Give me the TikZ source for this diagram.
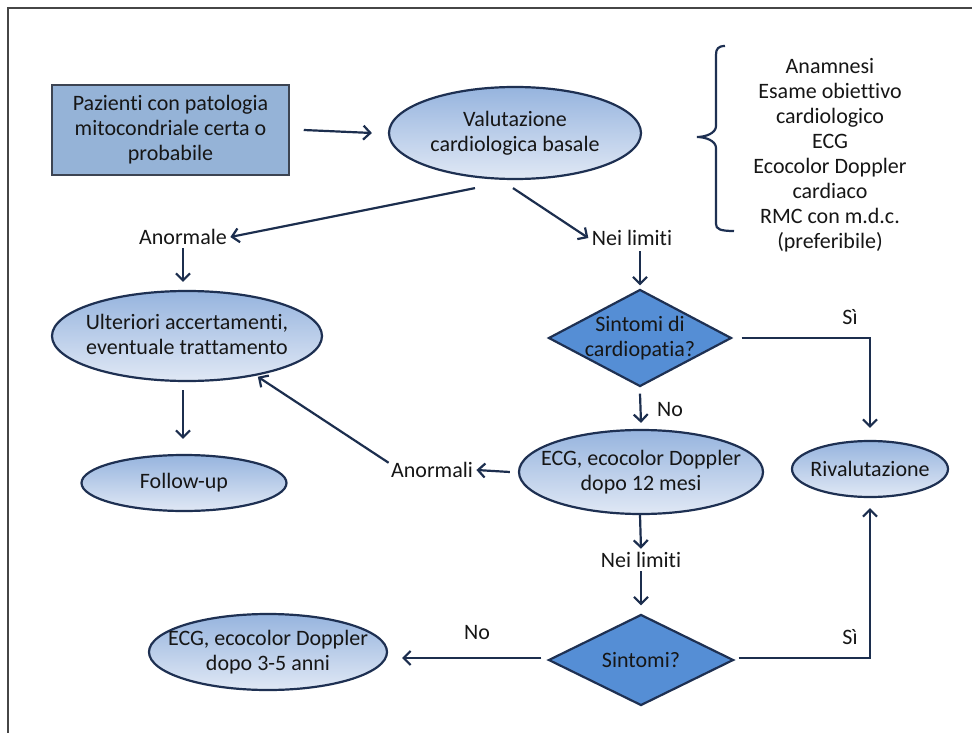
\documentclass[tikz,border=0pt]{standalone}
\usepackage{fontspec}
\setmainfont{Carlito}[Ligatures={NoCommon}]
\usetikzlibrary{shapes.geometric,arrows.meta,calc}
\definecolor{navy}{RGB}{30,48,82}
\definecolor{arrowc}{RGB}{28,46,78}
\definecolor{boxfill}{RGB}{149,179,215}
\definecolor{boxline}{RGB}{60,68,82}
\definecolor{elltop}{RGB}{150,180,222}
\definecolor{ellbot}{RGB}{224,232,245}
\definecolor{diafill}{RGB}{85,142,213}
\definecolor{txtc}{RGB}{22,22,22}
\definecolor{framec}{RGB}{70,70,70}
\begin{document}
\begin{tikzpicture}[x=1pt,y=-1pt,
  every node/.style={font=\fontsize{22}{25}\selectfont, text=txtc},
  ell/.style={ellipse, draw=navy, line width=2.2pt, top color=elltop, bottom color=ellbot, inner sep=0pt},
  dia/.style={diamond, draw=navy, line width=2.2pt, fill=diafill, inner sep=0pt},
  lbl/.style={align=center},
  arr/.style={draw=arrowc, line width=2.2pt, -{Straight Barb[length=7pt,width=14pt]}},
  plain/.style={draw=arrowc, line width=2.2pt}
]
\useasboundingbox (0,0) rectangle (972,733);
\fill[white] (0,0) rectangle (972,733);
\draw[framec, line width=1.6pt] (8,733) -- (8,8) -- (972,8);

% shapes
\node[draw=boxline, line width=1.5pt, fill=boxfill, minimum width=237pt, minimum height=90pt, inner sep=0pt, align=center] (pz) at (170.5,130) {Pazienti con patologia\\mitocondriale certa o\\probabile};
\node[ell, minimum width=252pt, minimum height=92pt] (val) at (515,133) {};
\node[lbl] (valt) at (val) {Valutazione\\cardiologica basale};

\node[lbl] (anorm) at (183,237) {Anormale};
\node[lbl] (nl1) at (632,238) {Nei limiti};

\node[ell, minimum width=270pt, minimum height=90pt] (ult) at (187,336) {};
\node[lbl] (ultt) at ($(ult)+(0,-2)$) {Ulteriori accertamenti,\\eventuale trattamento};

\node[ell, minimum width=205pt, minimum height=56pt] (fu) at (184,483) {};
\node[lbl] (fut) at (fu) {Follow-up};

\node[dia, minimum width=183pt, minimum height=97pt] (d1) at (640,338) {};
\node[lbl] (d1t) at (d1) {Sintomi di\\cardiopatia?};

\node[ell, minimum width=244pt, minimum height=84pt] (e12) at (641,472) {};
\node[lbl] (e12t) at (e12) {ECG, ecocolor Doppler\\dopo 12 mesi};

\node[ell, minimum width=156pt, minimum height=56pt] (riv) at (870,469) {};
\node[lbl] (rivt) at (riv) {Rivalutazione};

\node[lbl] (anormali) at (432,470) {Anormali};
\node[lbl] (nl2) at (641,560) {Nei limiti};

\node[dia, minimum width=185pt, minimum height=91pt] (d2) at (641,660) {};
\node[lbl] (d2t) at (d2) {Sintomi?};

\node[ell, minimum width=238pt, minimum height=76pt] (e35) at (268,652) {};
\node[lbl] (e35t) at (e35) {ECG, ecocolor Doppler\\dopo 3-5 anni};

\node[lbl] (si1) at (850,317) {Sì};
\node[lbl] (no1) at (670,410) {No};
\node[lbl] (no2) at (477,633) {No};
\node[lbl] (si2) at (850,637) {Sì};

\node[lbl] (list) at (830,155) {Anamnesi\\Esame obiettivo\\cardiologico\\ECG\\Ecocolor Doppler\\cardiaco\\RMC con m.d.c.\\(preferibile)};

% brace
\draw[navy, line width=2.2pt] (725,46) .. controls (718,46) and (716,49) .. (716,55) -- (716,126)
  .. controls (716,133) and (706,137) .. (697,137)
  .. controls (706,137) and (716,141) .. (716,148) -- (716,224)
  .. controls (716,229) and (720,231) .. (734,231);

% connectors
\draw[arr] ([xshift=14pt]pz.east) -- ([xshift=-16pt]val.west);
\draw[arr] ($(val.south)+(-40,8)$) -- (anorm.east);
\draw[arr] ($(val.south)+(-2,8)$) -- (nl1.west);
\draw[arr] (anorm.south) -- ($(anorm.south |- ult.north)+(0,-8)$);
\draw[arr] ($(ult.south)+(-4,8)$) -- ($(fu.north)+(-1,-15)$);
\draw[arr] ($(nl1.south -| d1.north)+(0,2)$) -- ($(d1.north)+(0,-3)$);
\draw[arr] ($(d1.east)+(9,0)$) -| ($(riv.north)+(0,-12)$);
\draw[arr] ($(d1.south)+(0,6)$) -- ($(e12.north)+(0,-6)$);
\draw[arr] ($(e12.west)+(-8,0)$) -- (anormali.east);
\draw[arr] ($(anormali.north west)+(1,4)$) -- ($(ult.-30)+(2,1)$);
\draw[arr] ($(e12.south)+(-1,0)$) -- (nl2.north);
\draw[arr] (nl2.south) -- ($(d2.north)+(0,-8)$);
\draw[arr] ($(d2.west)+(-6,-2)$) -- ($(d2.west -| e35.east)+(14,-2)$);
\draw[arr] ($(d2.east)+(4,-2)$) -| ($(riv.south)+(0,10)$);
\end{tikzpicture}
\end{document}
